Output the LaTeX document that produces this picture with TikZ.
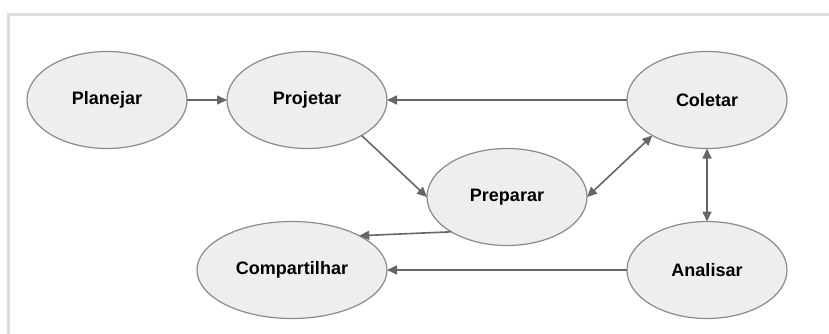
\documentclass[tikz,border=0pt]{standalone}
\usepackage{fontspec}
\setmainfont{Liberation Sans}
\usetikzlibrary{shapes.geometric,arrows.meta}
\definecolor{nodefill}{HTML}{EEEEEE}
\definecolor{nodeline}{HTML}{8A8A8A}
\definecolor{linkcol}{HTML}{666666}
\definecolor{framecol}{HTML}{DDDDDD}
\tikzset{
  stage/.style={ellipse, draw=nodeline, fill=nodefill, line width=1.2pt,
    minimum width=160pt, minimum height=97pt, inner sep=0pt, outer sep=0pt,
    font=\fontsize{18}{20}\selectfont\bfseries},
  link/.style={draw=linkcol, line width=1.6pt,
    -{Triangle[length=10pt,width=9pt]}},
  biglink/.style={draw=linkcol, line width=1.6pt,
    {Triangle[length=10pt,width=9pt]}-{Triangle[length=10pt,width=9pt]}}
}
\begin{document}
\begin{tikzpicture}[x=1pt,y=-1pt]
  \useasboundingbox (0,0) rectangle (829,334);
  % outer frame
  \draw[framecol, line width=3.5pt] (8.5,334) -- (8.5,14.5) -- (829,14.5);

  % stages
  \node[stage] (planejar) at (107,100) {Planejar};
  \node[stage] (projetar) at (307,100) {Projetar};
  \node[stage] (coletar) at (707,100) {Coletar};
  \node[stage] (preparar) at (507,197) {Preparar};
  \node[stage, minimum width=190pt] (compartilhar) at (292,270) {Compartilhar};
  \node[stage] (analisar) at (707,270) {Analisar};

  % flow
  \draw[link] (planejar) -- (projetar);
  \draw[link] (coletar) -- (projetar);
  \draw[link] (projetar.-33) -- (preparar.west);
  \draw[biglink] (preparar.east) -- (coletar.-147);
  \draw[biglink] (coletar.south) -- (analisar.north);
  \draw[link] (preparar.-148) -- (compartilhar.27);
  \draw[link] (analisar) -- (compartilhar);
\end{tikzpicture}
\end{document}
